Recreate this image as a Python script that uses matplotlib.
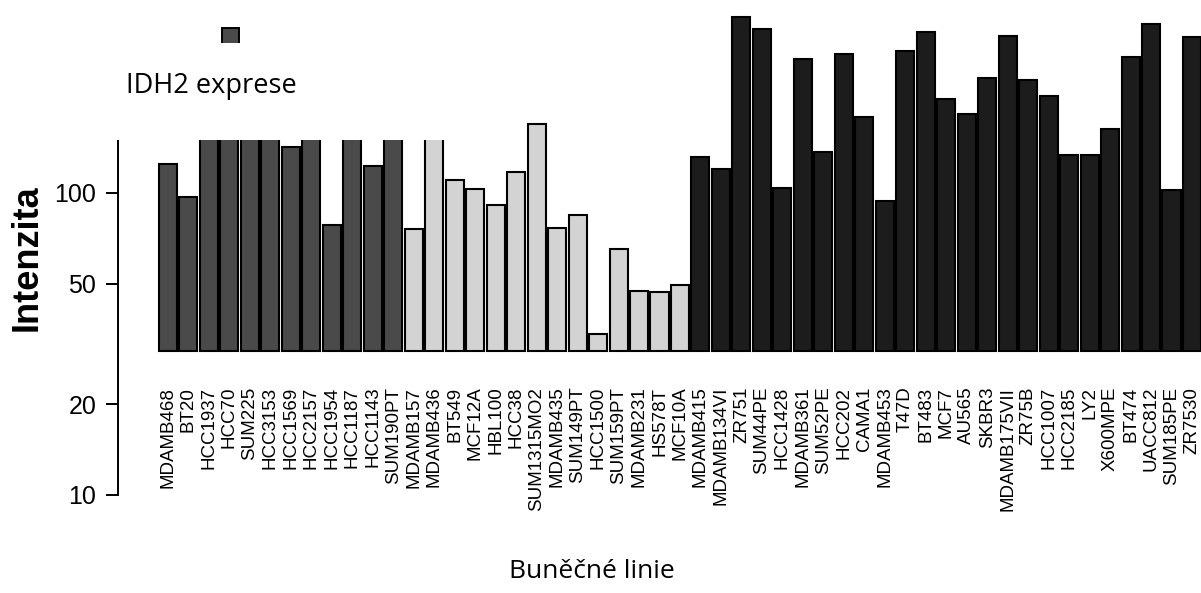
import matplotlib
matplotlib.use('Agg')

import numpy as np
import matplotlib.pyplot as plt
from matplotlib.patches import Rectangle


# cell lines, grouped by shade (left to right)
lines_dark = ['MDAMB468', 'BT20', 'HCC1937', 'HCC70', 'SUM225', 'HCC3153',
              'HCC1569', 'HCC2157', 'HCC1954', 'HCC1187', 'HCC1143', 'SUM190PT']
lines_light = ['MDAMB157', 'MDAMB436', 'BT549', 'MCF12A', 'HBL100', 'HCC38',
               'SUM1315MO2', 'MDAMB435', 'SUM149PT', 'HCC1500', 'SUM159PT',
               'MDAMB231', 'HS578T', 'MCF10A']
lines_black = ['MDAMB415', 'MDAMB134VI', 'ZR751', 'SUM44PE', 'HCC1428',
               'MDAMB361', 'SUM52PE', 'HCC202', 'CAMA1', 'MDAMB453', 'T47D',
               'BT483', 'MCF7', 'AU565', 'SKBR3', 'MDAMB175VII', 'ZR75B',
               'HCC1007', 'HCC2185', 'LY2', 'X600MPE', 'BT474', 'UACC812',
               'SUM185PE', 'ZR7530']

# IDH2 intensity (bars hidden under the box are guesses)
vals_dark = [125, 97, 210, 250, 230, 190, 142, 200, 78, 220, 123, 170]
vals_light = [76, 180, 110, 103, 91, 117, 169, 76.5, 84.5, 34, 65, 47.5, 47, 49.5]
vals_black = [131, 120, 382, 348, 104, 277, 137, 288, 178, 94, 294, 340, 204,
              183, 240, 331, 237, 210, 133, 133, 163, 281, 363, 102, 327]

yticks = [10, 20, 50, 100]
base = 30

names = lines_dark + lines_light + lines_black
vals = np.array(vals_dark + vals_light + vals_black, dtype=float)
colors = (['#4a4a4a'] * len(lines_dark) + ['#d3d3d3'] * len(lines_light)
          + ['#1c1c1c'] * len(lines_black))
x = np.arange(len(names))

W, H = 1201, 593
fig = plt.figure(figsize=(W / 100, H / 100), dpi=100)
ax = fig.add_axes([118 / W, (H - 495) / H, (W - 118) / W, 495 / H])

ax.bar(x, vals - base, bottom=base, width=0.88, color=colors,
       edgecolor='black', linewidth=1.5)

ax.set_yscale('log')
ax.set_ylim(10, 435)
ax.set_xlim(-2.44, 50.44)
ax.set_yticks(yticks)
ax.set_yticklabels([str(t) for t in yticks], family='Liberation Sans', fontsize=18)
ax.yaxis.set_minor_locator(plt.NullLocator())
ax.tick_params(axis='y', length=8.6, width=1.4, pad=7)

# cell line names sit just under the bars, not at the axis bottom
ax.set_xticks(x)
ax.set_xticklabels(names, rotation=90, family='Liberation Sans', fontsize=13.5)
ax.tick_params(axis='x', length=0, pad=-78)

for s in ['top', 'right', 'bottom']:
    ax.spines[s].set_visible(False)
ax.spines['left'].set_linewidth(1.4)
ax.spines['left'].set_bounds(10, 435)

fig.text(27 / W, 1 - 258 / H, 'Intenzita', rotation=90, ha='center', va='center',
         family='Liberation Sans', fontweight='bold', fontsize=26)
fig.text(592 / W, 1 - 578 / H, 'Buněčné linie', ha='center', va='baseline',
         family='Open Sans', fontsize=19)

# white box over the top-left corner with the cropped legend key
fig.add_artist(Rectangle((0, 1 - 140 / H), 480 / W, 140 / H, transform=fig.transFigure,
                         facecolor='white', edgecolor='none', zorder=10))
fig.add_artist(Rectangle((222 / W, 1 - 50 / H), 17 / W, 22 / H, transform=fig.transFigure,
                         facecolor='#4a4a4a', edgecolor='black', linewidth=1.4, zorder=11))
fig.add_artist(Rectangle((215 / W, 1 - 60 / H), 30 / W, 17 / H, transform=fig.transFigure,
                         facecolor='white', edgecolor='none', zorder=12))
fig.text(211 / W, 1 - 93 / H, 'IDH2 exprese', ha='center', va='baseline',
         family='Open Sans', fontsize=19.5, zorder=13)

fig.savefig('out.png', dpi=100)
